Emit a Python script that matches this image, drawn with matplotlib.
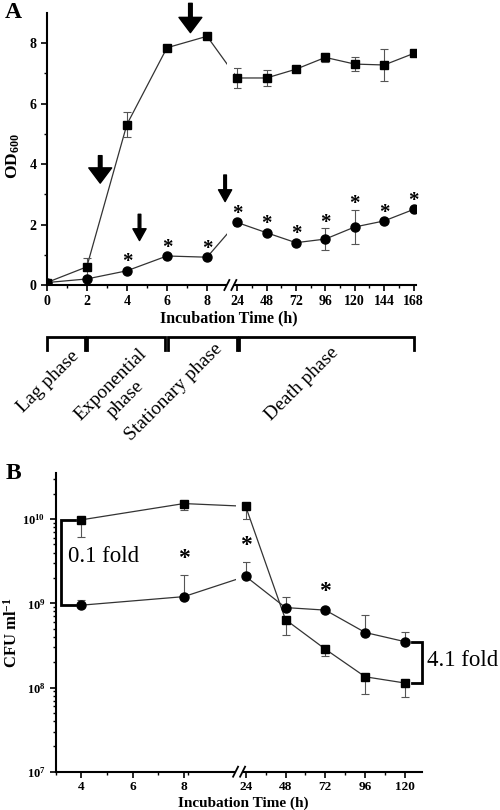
import numpy as np
import matplotlib
matplotlib.use("Agg")
import matplotlib.pyplot as plt
from matplotlib import transforms as mtransforms
from matplotlib.lines import Line2D
from matplotlib.patches import Rectangle, FancyArrowPatch
from matplotlib.ticker import LogLocator, NullFormatter

plt.rcParams['font.family'] = ['Liberation Serif', 'DejaVu Serif']
plt.rcParams['mathtext.fontset'] = 'custom'
plt.rcParams['mathtext.rm'] = 'Liberation Serif'
plt.rcParams['mathtext.bf'] = 'Liberation Serif:bold'
plt.rcParams['mathtext.it'] = 'Liberation Serif:italic'

# ---- panel A data (OD600) ----
time_a = [0, 2, 4, 6, 8, 24, 48, 72, 96, 120, 144, 168]
od_sq = [0.08, 0.60, 5.31, 7.85, 8.23, 6.85, 6.85, 7.14, 7.53, 7.31, 7.28, 7.66]
od_sq_err = [0, 0.29, 0.40, 0, 0, 0.33, 0.25, 0, 0.16, 0.22, 0.54, 0]
od_ci = [0.08, 0.20, 0.47, 0.96, 0.92, 2.07, 1.73, 1.40, 1.52, 1.92, 2.12, 2.50]
od_ci_err = [0, 0, 0, 0, 0, 0, 0, 0, 0.35, 0.57, 0, 0]
star_times_a = [4, 6, 8, 24, 48, 72, 96, 120, 144, 168]
xticks_a = [0, 2, 4, 6, 8, 24, 48, 72, 96, 120, 144, 168]
xminor_a = [1, 3, 5, 7, 36, 60, 84, 108, 132, 156]

# arrows (tail, tip) in data units of panel A
arrows_big = [((2.67, 4.28), (2.67, 3.37)), ((7.17, 9.32), (7.17, 8.35))]
arrows_small = [((4.63, 2.34), (4.63, 1.47)), ((17.6, 3.64), (17.6, 2.76))]

phases = ['Lag phase', 'Exponential\nphase', 'Stationary phase', 'Death phase']
phase_spans = [(0, 1.9), (2.0, 5.9), (6.05, 24), (25.6, 168)]
phase_text_px = [(48, 382), (118, 392), (174, 392), (302, 384)]

# ---- panel B data (CFU/ml) ----
time_b = [4, 8, 24, 48, 72, 96, 120]
cfu_sq = [9.8e9, 1.53e10, 1.42e10, 6.4e8, 2.85e8, 1.34e8, 1.13e8]
cfu_sq_lo = [3.7e9, 2.6e9, 4.2e9, 2.2e8, 4.7e7, 5.0e7, 3.6e7]
cfu_ci = [9.5e8, 1.2e9, 2.09e9, 8.9e8, 8.3e8, 4.5e8, 3.5e8]
cfu_ci_hi = [1.5e8, 9.5e8, 1.0e9, 3.1e8, 5.0e7, 2.8e8, 1.1e8]
star_times_b = [8, 24, 72]
xticks_b = [4, 6, 8, 24, 48, 72, 96, 120]
xminor_b = [3, 5, 7, 9, 36, 60, 84, 108]


def broken_scale(t_lo, t_hi, gap, per_h):
    xp = [-1e4, t_lo, t_hi, 1e4]
    fp = [-1e4, t_lo, t_lo + gap, t_lo + gap + (1e4 - t_hi) * per_h]
    return (lambda t: np.interp(t, xp, fp)), (lambda p: np.interp(p, fp, xp))


fig = plt.figure(figsize=(5, 8.1), dpi=100)
W, H = 500, 810


def px(x, y):
    return x / W, 1 - y / H


ax_a = fig.add_axes([46.7 / W, 1 - 285 / H, (416 - 46.7) / W, (285 - 13) / H])
ax_b = fig.add_axes([55.7 / W, 1 - 771.7 / H, (421.7 - 55.7) / W, (771.7 - 473.3) / H])

line_kw = dict(color='#333333', lw=0.9, zorder=2)
err_kw = dict(fmt='none', ecolor='#555555', elinewidth=0.8, capsize=2.8, capthick=0.8, zorder=2.1)


def style_axes(ax, size=10):
    for s in ['top', 'right']:
        ax.spines[s].set_visible(False)
    for s in ['left', 'bottom']:
        ax.spines[s].set_linewidth(1.5)
    ax.tick_params(which='major', length=4.5, width=1.2, labelsize=size, pad=3)
    ax.tick_params(which='minor', length=2.5, width=1.0)
    for lab in ax.get_xticklabels() + ax.get_yticklabels():
        lab.set_fontweight('bold')


def axis_break(ax, t_brk, half):
    base = mtransforms.blended_transform_factory(ax.transData, ax.transAxes)
    x0, y0 = base.transform((t_brk, 0))
    y1 = ax.transAxes.transform((0, 1))[1]
    ax.add_patch(Rectangle((x0 - half, y0 - 3), 2 * half, y1 - y0 + 3,
                           transform=mtransforms.IdentityTransform(),
                           facecolor='white', edgecolor='none', zorder=2.6, clip_on=False))
    for dx in (-half, half):
        fig.add_artist(Line2D([x0 + dx - 2.5, x0 + dx + 2.5], [y0 - 5, y0 + 5],
                              transform=mtransforms.IdentityTransform(),
                              color='black', lw=1.3, zorder=5))


def draw_arrow(ax, tail, tip, tw, hw, hl):
    style = f'simple,tail_width={tw},head_width={hw},head_length={hl}'
    ax.add_patch(FancyArrowPatch(tail, tip, arrowstyle=style, mutation_scale=1,
                                 shrinkA=0, shrinkB=0, color='black',
                                 clip_on=False, zorder=4))


# ================= Panel A =================
ax_a.set_xscale('function', functions=broken_scale(8, 24, 1.5, 1.467 / 24))
ax_a.set_xlim(0, 170)
ax_a.set_ylim(0, 9)
ax_a.plot(time_a, od_sq, **line_kw)
ax_a.plot(time_a, od_ci, **line_kw)
ax_a.errorbar(time_a, od_sq, yerr=od_sq_err, **err_kw)
ax_a.errorbar(time_a, od_ci, yerr=od_ci_err, **err_kw)
ax_a.plot(time_a, od_sq, 's', color='black', ms=6.2, ls='none', zorder=3)
ax_a.plot(time_a, od_ci, 'o', color='black', ms=6.5, ls='none', zorder=3)

for t in star_times_a:
    i = time_a.index(t)
    ax_a.annotate('*', (t, od_ci[i] + od_ci_err[i]), xytext=(0, 4 if od_ci_err[i] else 6),
                  textcoords='offset points', ha='center', va='center', fontsize=15,
                  fontweight='bold')

for (tail, tip) in arrows_big:
    draw_arrow(ax_a, tail, tip, 2.6, 16.5, 11)
for (tail, tip) in arrows_small:
    draw_arrow(ax_a, tail, tip, 1.9, 9.5, 8.5)

ax_a.set_xticks(xticks_a, labels=[str(t) for t in xticks_a])
ax_a.set_xticks(xminor_a, minor=True)
ax_a.set_yticks([0, 2, 4, 6, 8])
ax_a.set_yticks([1, 3, 5, 7], minor=True)
style_axes(ax_a)
axis_break(ax_a, 20.4, 3.5)

# phase brackets
blend_a = mtransforms.blended_transform_factory(ax_a.transData, ax_a.transAxes)
y_top, y_low = (285 - 336.7) / 272, (285 - 350) / 272
for t0, t1 in phase_spans:
    ax_a.plot([t0, t0, t1, t1], [y_low, y_top, y_top, y_low], transform=blend_a,
              clip_on=False, color='black', lw=2, solid_joinstyle='miter')
for name, (x, y) in zip(phases, phase_text_px):
    fig.text(*px(x, y), name, rotation=45, rotation_mode='anchor', ha='center',
             va='center', fontsize=14, multialignment='center', linespacing=1.25)

fig.text(*px(13, 13), 'A', fontsize=17, fontweight='bold', ha='center', va='center')
fig.text(*px(13, 156), r'$\mathbf{OD_{600}}$', rotation=90, fontsize=12.5,
         ha='center', va='center')
fig.text(*px(229, 318), 'Incubation Time (h)', fontsize=11.5, fontweight='bold',
         ha='center', va='center')

# ================= Panel B =================
ax_b.set_xscale('function', functions=broken_scale(8, 24, 2.41, 1.555 / 24))
ax_b.set_yscale('log')
ax_b.set_xlim(3, 130)
ax_b.set_ylim(1e7, 3.5e10)
ax_b.plot(time_b, cfu_sq, **line_kw)
ax_b.plot(time_b, cfu_ci, **line_kw)
ax_b.errorbar(time_b, cfu_sq, yerr=[cfu_sq_lo, [0] * len(time_b)], **err_kw)
ax_b.errorbar(time_b, cfu_ci, yerr=[[0] * len(time_b), cfu_ci_hi], **err_kw)
ax_b.plot(time_b, cfu_sq, 's', color='black', ms=6.2, ls='none', zorder=3)
ax_b.plot(time_b, cfu_ci, 'o', color='black', ms=6.5, ls='none', zorder=3)

for t in star_times_b:
    i = time_b.index(t)
    ax_b.annotate('*', (t, cfu_ci[i] + cfu_ci_hi[i]), xytext=(0, 12),
                  textcoords='offset points', ha='center', va='center', fontsize=17,
                  fontweight='bold')

ax_b.set_xticks(xticks_b, labels=[str(t) for t in xticks_b])
ax_b.set_xticks(xminor_b, minor=True)
ax_b.set_yticks([1e7, 1e8, 1e9, 1e10],
                labels=[r'$\mathbf{10^{%d}}$' % k for k in (7, 8, 9, 10)])
ax_b.yaxis.set_minor_locator(LogLocator(subs=np.arange(2, 10)))
ax_b.yaxis.set_minor_formatter(NullFormatter())
style_axes(ax_b, size=9.5)
ax_b.tick_params(axis='x', pad=2)
ax_b.tick_params(axis='y', labelsize=9)
axis_break(ax_b, 22.3, 3.5)

# fold-change brackets
bk = dict(color='black', lw=2, clip_on=False, solid_joinstyle='miter')
ax_b.plot([3.75, 3.22, 3.22, 3.75], [cfu_sq[0], cfu_sq[0], cfu_ci[0], cfu_ci[0]], **bk)
ax_b.plot([124, 130, 130, 124], [cfu_ci[-1], cfu_ci[-1], cfu_sq[-1], cfu_sq[-1]], **bk)
ax_b.text(3.47, 3.6e9, '0.1 fold', fontsize=16.5, ha='left', va='center')
ax_b.text(133, 2.07e8, '4.1 fold', fontsize=16.5, ha='left', va='center', clip_on=False)

fig.text(*px(13, 474), 'B', fontsize=17, fontweight='bold', ha='center', va='center')
fig.text(*px(12, 633), r'$\mathbf{CFU\ ml^{-1}}$', rotation=90, fontsize=12,
         ha='center', va='center')
fig.text(*px(243, 806.5), 'Incubation Time (h)', fontsize=11, fontweight='bold',
         ha='center', va='baseline')

fig.savefig('out.png', dpi=100)
